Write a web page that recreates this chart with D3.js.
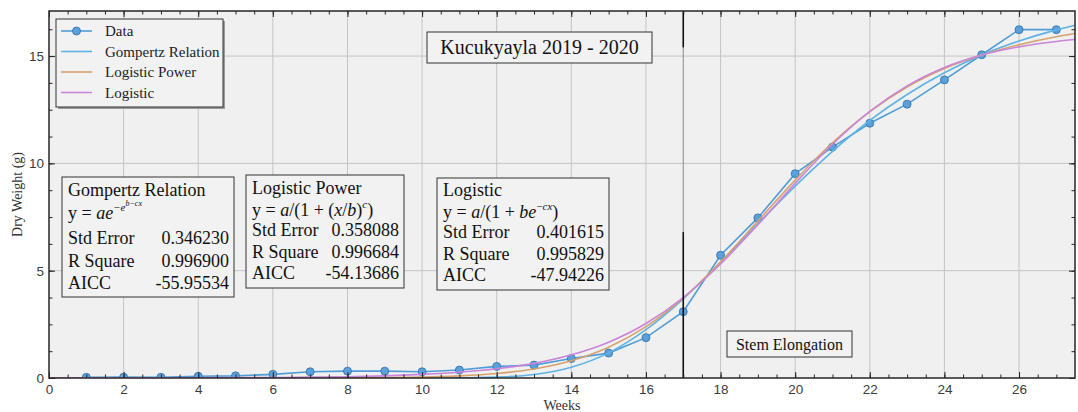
<!DOCTYPE html>
<html><head><meta charset="utf-8">
<script src="https://cdn.jsdelivr.net/npm/d3@7"></script>
<style>body{margin:0;background:#fff}svg{display:block}</style>
</head><body><svg id="c" width="1078" height="412"></svg>
<script>
// ---------- data ----------
const weeks = [1,2,3,4,5,6,7,8,9,10,11,12,13,14,15,16,17,18,19,20,21,22,23,24,25,26,27];
const dryWeight = [0.03,0.04,0.03,0.08,0.10,0.17,0.29,0.32,0.32,0.29,0.37,0.54,0.60,0.91,1.16,1.88,3.09,5.72,7.46,9.52,10.76,11.87,12.76,13.89,15.06,16.23,16.23];
const fitWeeks = [0,1,2,3,4,5,6,7,8,9,10,11,12,13,14,15,16,17,18,19,20,21,22,23,24,25,26,27,27.5];
const gompertz = [0,0,0,0,0,0,0,0,0,0,0,0.005,0.04,0.16,0.50,1.17,2.25,3.69,5.39,7.19,8.94,10.56,12.00,13.21,14.22,15.05,15.70,16.22,16.44];
const logisticPower = [0,0,0,0,0,0,0,0,0.01,0.02,0.04,0.10,0.21,0.42,0.80,1.43,2.39,3.72,5.41,7.31,9.22,10.96,12.41,13.56,14.42,15.05,15.53,15.90,16.05];
const logistic = [0,0,0,0.01,0.01,0.02,0.02,0.04,0.06,0.10,0.17,0.27,0.43,0.68,1.08,1.67,2.54,3.75,5.31,7.14,9.07,10.89,12.42,13.61,14.47,15.05,15.43,15.68,15.77];
const xTicks = [0,2,4,6,8,10,12,14,16,18,20,22,24,26];
const yTicks = [0,5,10,15];
const xDomain = [0,27.5];
const yDomain = [0,17.1];
const stemWeek = 17;
const legendLabels = ["Data","Gompertz Relation","Logistic Power","Logistic"];
const modelNames = ["Gompertz Relation","Logistic Power","Logistic"];
const stdErrors = ["0.346230","0.358088","0.401615"];
const rSquares = ["0.996900","0.996684","0.995829"];
const aiccs = ["-55.95534","-54.13686","-47.94226"];
const chartTitle = "Kucukyayla 2019 - 2020";
const stageLabel = "Stem Elongation";
const xLabel = "Weeks";
const yLabel = "Dry Weight (g)";

// ---------- layout ----------
const svg = d3.select("#c");
const L = 49, R = 1075, T = 11, B = 378;
const x = d3.scaleLinear().domain(xDomain).range([L, R]);
const y = d3.scaleLinear().domain(yDomain).range([B, T]);
const serif = "'Liberation Serif','Times New Roman',serif";
const sans = "'Liberation Sans',Arial,sans-serif";
const colData = "#4f9cd6", colGomp = "#5db3e6", colLP = "#d6a16c", colLog = "#c985d9";

svg.append("rect").attr("width",1078).attr("height",412).attr("fill","#fff");
svg.append("rect").attr("x",L).attr("y",T).attr("width",R-L).attr("height",B-T).attr("fill","#f0f0f0");

// grid
const grid = svg.append("g").attr("stroke","#c4c4c4").attr("stroke-width",1);
grid.selectAll(".gx").data(xTicks.filter(d=>d>0)).join("line")
  .attr("x1",d=>x(d)).attr("x2",d=>x(d)).attr("y1",T).attr("y2",B);
grid.selectAll(".gy").data(yTicks.filter(d=>d>0)).join("line")
  .attr("y1",d=>y(d)).attr("y2",d=>y(d)).attr("x1",L).attr("x2",R);

svg.append("clipPath").attr("id","clip").append("rect").attr("x",L).attr("y",T).attr("width",R-L).attr("height",B-T);
const plot = svg.append("g").attr("clip-path","url(#clip)");

// data line + markers
const dataPts = weeks.map((w,i)=>[w,dryWeight[i]]);
plot.append("path").datum(dataPts)
  .attr("d", d3.line().x(d=>x(d[0])).y(d=>y(d[1])))
  .attr("fill","none").attr("stroke",colData).attr("stroke-width",1.6);
plot.selectAll(".mk").data(dataPts).join("circle")
  .attr("cx",d=>x(d[0])).attr("cy",d=>y(d[1])).attr("r",4)
  .attr("fill","#5b9fdb").attr("stroke","#2f6ea8").attr("stroke-width",0.8);

// fitted curves
const fitLine = d3.line().curve(d3.curveMonotoneX).x(d=>x(d[0])).y(d=>y(d[1]));
[[gompertz,colGomp],[logisticPower,colLP],[logistic,colLog]].forEach(([vals,col])=>{
  plot.append("path").datum(fitWeeks.map((w,i)=>[w,vals[i]]))
    .attr("d",fitLine).attr("fill","none").attr("stroke",col).attr("stroke-width",1.6);
});

// stage line at week 17
const sx = x(stemWeek);
svg.append("line").attr("x1",sx).attr("x2",sx).attr("y1",y(15.4)).attr("y2",y(6.8)).attr("stroke","#8a8a8a").attr("stroke-width",1);
svg.append("line").attr("x1",sx).attr("x2",sx).attr("y1",T).attr("y2",y(15.4)).attr("stroke","#111").attr("stroke-width",1.6);
svg.append("line").attr("x1",sx).attr("x2",sx).attr("y1",y(6.8)).attr("y2",B).attr("stroke","#111").attr("stroke-width",1.6);

// axes (ticks inward)
function styleAxis(g){ g.select(".domain").remove(); g.selectAll("line").attr("stroke","#262626"); g.selectAll("text").attr("font-family",sans).attr("font-size","13.5px").attr("fill","#3c3c3c"); }
const minorX = d3.range(0,55).map(i=>i*0.5);
const minorY = d3.range(0,14).map(i=>i*1.25);
svg.append("g").attr("transform",`translate(0,${B})`).call(d3.axisBottom(x).tickValues(xTicks).tickSize(-6).tickPadding(6).tickFormat(d3.format("d"))).call(styleAxis);
svg.append("g").attr("transform",`translate(0,${B})`).call(d3.axisBottom(x).tickValues(minorX).tickSize(-3.5).tickFormat("")).call(styleAxis);
svg.append("g").attr("transform",`translate(0,${T})`).call(d3.axisTop(x).tickValues(xTicks).tickSize(-6).tickFormat("")).call(styleAxis);
svg.append("g").attr("transform",`translate(0,${T})`).call(d3.axisTop(x).tickValues(minorX).tickSize(-3.5).tickFormat("")).call(styleAxis);
svg.append("g").attr("transform",`translate(${L},0)`).call(d3.axisLeft(y).tickValues(yTicks).tickSize(-6).tickPadding(5)).call(styleAxis);
svg.append("g").attr("transform",`translate(${L},0)`).call(d3.axisLeft(y).tickValues(minorY).tickSize(-3.5).tickFormat("")).call(styleAxis);
svg.append("g").attr("transform",`translate(${R},0)`).call(d3.axisRight(y).tickValues(yTicks).tickSize(-6).tickFormat("")).call(styleAxis);
svg.append("g").attr("transform",`translate(${R},0)`).call(d3.axisRight(y).tickValues(minorY).tickSize(-3.5).tickFormat("")).call(styleAxis);
svg.append("rect").attr("x",L).attr("y",T).attr("width",R-L).attr("height",B-T).attr("fill","none").attr("stroke","#262626").attr("stroke-width",1.5);

// axis labels
svg.append("text").attr("x",(L+R)/2).attr("y",410).attr("text-anchor","middle").attr("font-family",serif).attr("font-size","14px").attr("fill","#333").text(xLabel);
svg.append("text").attr("transform",`translate(22,${(T+B)/2}) rotate(-90)`).attr("text-anchor","middle").attr("font-family",serif).attr("font-size","14px").attr("fill","#333").text(yLabel);

// legend
const lg = svg.append("g");
lg.append("rect").attr("x",58).attr("y",21).attr("width",167).attr("height",88).attr("fill","#9a9a9a");
lg.append("rect").attr("x",56).attr("y",19).attr("width",167).attr("height",88).attr("fill","#f2f2f2").attr("stroke","#333").attr("stroke-width",1);
const legCols = [colData,colGomp,colLP,colLog];
legendLabels.forEach((lab,i)=>{
  const yy = 31 + i*20.5;
  lg.append("line").attr("x1",61).attr("x2",92).attr("y1",yy).attr("y2",yy).attr("stroke",legCols[i]).attr("stroke-width",1.6);
  if(i===0) lg.append("circle").attr("cx",76.5).attr("cy",yy).attr("r",4).attr("fill","#5b9fdb").attr("stroke","#2f6ea8").attr("stroke-width",0.8);
  lg.append("text").attr("x",105).attr("y",yy+5).attr("font-family",serif).attr("font-size","15px").attr("fill","#222").text(lab);
});

// title box
svg.append("rect").attr("x",427).attr("y",32).attr("width",225).attr("height",31).attr("fill","#f2f2f2").attr("stroke","#333");
svg.append("text").attr("x",539.5).attr("y",54).attr("text-anchor","middle").attr("font-family",serif).attr("font-size","20px").attr("fill","#111").text(chartTitle);

// stage box
svg.append("rect").attr("x",727).attr("y",331).attr("width",125).attr("height",26).attr("fill","#f2f2f2").attr("stroke","#333");
svg.append("text").attr("x",789.5).attr("y",349.5).attr("text-anchor","middle").attr("font-family",serif).attr("font-size","16px").attr("fill","#111").text(stageLabel);

// stat boxes
const boxes = [
  {x:62,y:177,w:172,h:120,rows:[196,219,244,267,289]},
  {x:246,y:175,w:158,h:113,rows:[194,216,236,258,279]},
  {x:437,y:178,w:172,h:112,rows:[196,218,238,260,281]}
];
const formulas = [
  [{t:"y = "},{t:"ae",i:1},{t:"−e",i:1,s:11,b:-8},{t:"b−cx",i:1,s:8,b:-13}],
  [{t:"y = "},{t:"a",i:1},{t:"/(1 + ("},{t:"x",i:1},{t:"/"},{t:"b",i:1},{t:")"},{t:"c",i:1,s:11,b:-8},{t:")"}],
  [{t:"y = "},{t:"a",i:1},{t:"/(1 + "},{t:"be",i:1},{t:"−",s:11,b:-8},{t:"cx",i:1,s:11,b:-8},{t:")"}]
];
boxes.forEach((bx,k)=>{
  const g = svg.append("g").attr("font-family",serif).attr("fill","#111");
  g.append("rect").attr("x",bx.x).attr("y",bx.y).attr("width",bx.w).attr("height",bx.h).attr("fill","#f2f2f2").attr("stroke","#333");
  const lx = bx.x+6, rx = bx.x+bx.w-5;
  g.append("text").attr("x",lx).attr("y",bx.rows[0]).attr("font-size","18px").text(modelNames[k]);
  const ft = g.append("text").attr("x",lx).attr("y",bx.rows[1]).attr("font-size","18px");
  let prev = 0;
  formulas[k].forEach(seg=>{
    const b = seg.b||0;
    ft.append("tspan").attr("dy",b-prev).attr("font-size",(seg.s||18)+"px")
      .attr("font-style",seg.i?"italic":"normal").text(seg.t);
    prev = b;
  });
  const labs = ["Std Error","R Square","AICC"], vals=[stdErrors[k],rSquares[k],aiccs[k]];
  labs.forEach((lb,j)=>{
    g.append("text").attr("x",lx).attr("y",bx.rows[j+2]).attr("font-size","18px").text(lb);
    g.append("text").attr("x",rx).attr("y",bx.rows[j+2]).attr("text-anchor","end").attr("font-size","18px").text(vals[j]);
  });
});
</script></body></html>
